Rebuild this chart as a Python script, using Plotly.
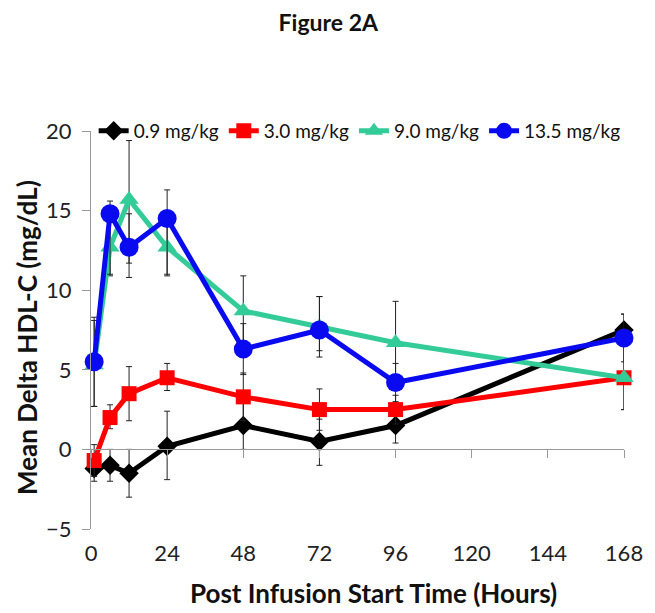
import plotly.graph_objects as go

hours = [1, 6, 12, 24, 48, 72, 96, 168]

d09 = [-1.2, -1.0, -1.5, 0.2, 1.5, 0.5, 1.5, 7.5]
d09_up = [0.8, 1.0, 1.5, 2.2, 1.5, 1.4, 1.1, 1.0]
d09_lo = [0.8, 1.0, 1.5, 2.1, 1.5, 1.5, 1.1, 1.0]

d30 = [-0.7, 2.0, 3.5, 4.5, 3.3, 2.5, 2.5, 4.5]
d30_up = [1.0, 0.8, 1.7, 0.9, 1.5, 1.3, 0.9, 2.0]
d30_lo = [1.0, 0.7, 1.7, 0.8, 1.5, 1.3, 0.9, 2.0]

d90 = [5.3, 12.7, 15.7, 12.7, 8.7, 7.7, 6.7, 4.5]
d90_up = [2.8, 1.8, 3.7, 2.2, 2.2, 1.9, 2.6, 2.0]
d90_lo = [2.6, 1.8, 4.0, 1.8, 2.2, 1.9, 2.6, 2.0]

d135 = [5.5, 14.8, 12.7, 14.5, 6.3, 7.5, 4.2, 7.0]
d135_up = [2.8, 0.8, 2.1, 1.8, 1.6, 2.1, 1.2, 1.5]
d135_lo = [2.8, 3.8, 1.9, 3.5, 1.6, 1.3, 1.2, 1.5]

series = [
    ("0.9 mg/kg", d09, d09_up, d09_lo, "#000000", "diamond", 15),
    ("3.0 mg/kg", d30, d30_up, d30_lo, "#FF0000", "square", 15),
    ("9.0 mg/kg", d90, d90_up, d90_lo, "#33CC99", "triangle-up", 17),
    ("13.5 mg/kg", d135, d135_up, d135_lo, "#0A0AF0", "circle", 19),
]

x_ticks = [0, 24, 48, 72, 96, 120, 144, 168]
y_ticks = [-5, 0, 5, 10, 15, 20]

FONT = "Lato, 'Open Sans', sans-serif"

fig = go.Figure()
for name, vals, up, lo, col, sym, sz in series:
    fig.add_trace(go.Scatter(
        x=hours, y=vals, name=name, mode="lines+markers",
        line=dict(color=col, width=5),
        marker=dict(symbol=sym, size=sz, color=col),
        error_y=dict(type="data", symmetric=False, array=up, arrayminus=lo,
                     color="#222222", thickness=1, width=3),
        cliponaxis=False,
    ))

# tick marks on the zero line
fig.add_trace(go.Scatter(x=[0], y=[0], xaxis="x2", showlegend=False,
                         mode="markers", marker=dict(opacity=0), hoverinfo="skip"))

fig.update_layout(
    width=647, height=605,
    margin=dict(l=83, r=23, t=123, b=84),
    paper_bgcolor="white", plot_bgcolor="white",
    font=dict(family=FONT, color="#111111"),
    title=dict(text="<b>Figure 2A</b>", x=0.495, xanchor="center", y=0.976,
               yanchor="middle", font=dict(size=23, color="#111111")),
    xaxis=dict(range=[0, 168], tickvals=x_ticks, ticks="", showline=False,
               showgrid=False, zeroline=False, tickfont=dict(size=22, color="#222222"),
               ticklabelstandoff=9, domain=[0, 1]),
    xaxis2=dict(range=[0, 168], tickvals=x_ticks, overlaying="x", anchor="free",
                position=0.2, showticklabels=False, ticks="outside", ticklen=8,
                tickcolor="#999999", showline=True, linecolor="#999999", linewidth=1,
                showgrid=False, zeroline=False),
    yaxis=dict(range=[-5, 20], tickvals=y_ticks, ticks="outside", ticklen=8,
               tickcolor="#999999", showline=True, linecolor="#999999", linewidth=1,
               showgrid=False, zeroline=False, tickfont=dict(size=22, color="#222222"),
               ticklabelstandoff=6),
    legend=dict(orientation="h", x=0.005, xanchor="left", y=1.0, yanchor="middle",
                font=dict(size=19, color="#111111"), bgcolor="rgba(0,0,0,0)",
                itemwidth=30, tracegroupgap=0),
    annotations=[
        dict(text="<b>Post Infusion Start Time (Hours)</b>", xref="paper", yref="paper",
             x=0.53, y=-0.162, xanchor="center", yanchor="middle", showarrow=False,
             font=dict(size=26, color="#111111")),
        dict(text="<b>Mean Delta HDL-C (mg/dL)</b>", xref="paper", yref="paper",
             x=-0.12, y=0.48, xanchor="center", yanchor="middle", textangle=-90,
             showarrow=False, font=dict(size=26, color="#111111")),
    ],
)

fig.write_html("out.html")
